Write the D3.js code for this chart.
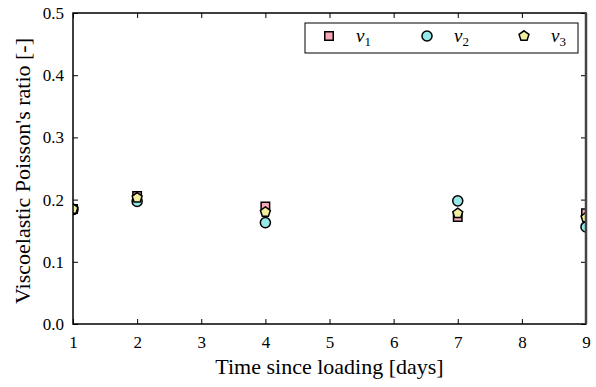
<!DOCTYPE html>
<html>
<head>
<meta charset="utf-8">
<script src="https://cdn.jsdelivr.net/npm/d3@7"></script>
<style>
	body { margin: 0; background: #fff; }
</style>
</head>
<body>
<div id="chart"></div>
<script>
'use strict';
(function(){

	// data
	var days = [1, 2, 4, 7, 9];
	var nu1 = [0.185, 0.206, 0.189, 0.172, 0.178];
	var nu2 = [0.184, 0.197, 0.163, 0.198, 0.156];
	var nu3 = [0.185, 0.203, 0.180, 0.178, 0.171];
	var seriesNames = ['1', '2', '3'];
	var xTicks = [1, 2, 3, 4, 5, 6, 7, 8, 9];
	var yTicks = [0, 0.1, 0.2, 0.3, 0.4, 0.5];

	var serif = '"Liberation Serif", "Times New Roman", serif';
	var width = 596, height = 387;
	var margin = {top: 13, right: 10, bottom: 63, left: 73};

	var svg = d3.select('#chart')
		.append('svg')
		.attr('width', width)
		.attr('height', height)
		.style('font-family', serif);

	var x = d3.scaleLinear().domain([1, 9]).range([margin.left, width - margin.right]);
	var y = d3.scaleLinear().domain([0, 0.5]).range([height - margin.bottom, margin.top]);

	var series = [
		{name: seriesNames[0], values: nu1, shape: 'square', fill: '#f5a9b8'},
		{name: seriesNames[1], values: nu2, shape: 'circle', fill: '#97e8e8'},
		{name: seriesNames[2], values: nu3, shape: 'pentagon', fill: '#f2f0a0'}
	];

	function markerPath(shape) {
		if (shape === 'square') return d3.symbol(d3.symbolSquare, 72)();
		if (shape === 'circle') return d3.symbol(d3.symbolCircle, 80)();
		// pentagon
		var r = 5.2, pts = [];
		for (var i = 0; i < 5; i++) {
			var a = -Math.PI / 2 + i * 2 * Math.PI / 5;
			pts.push([r * Math.cos(a), r * Math.sin(a)]);
		}
		return 'M' + pts.join('L') + 'Z';
	}

	svg.append('clipPath')
		.attr('id', 'plot-clip')
		.append('rect')
		.attr('x', x(1))
		.attr('y', y(0.5))
		.attr('width', x(9) - x(1))
		.attr('height', y(0) - y(0.5));

	// axes, ticks inside
	var gx = svg.append('g')
		.attr('transform', 'translate(0,' + y(0) + ')')
		.call(d3.axisBottom(x).tickValues(xTicks).tickFormat(d3.format('d')).tickSize(-5).tickPadding(12));
	var gxTop = svg.append('g')
		.attr('transform', 'translate(0,' + y(0.5) + ')')
		.call(d3.axisTop(x).tickValues(xTicks).tickFormat('').tickSize(-5));
	var gy = svg.append('g')
		.attr('transform', 'translate(' + x(1) + ',0)')
		.call(d3.axisLeft(y).tickValues(yTicks).tickFormat(d3.format('.1f')).tickSize(-5).tickPadding(9));
	var gyRight = svg.append('g')
		.attr('transform', 'translate(' + x(9) + ',0)')
		.call(d3.axisRight(y).tickValues(yTicks).tickFormat('').tickSize(-5));

	[gx, gxTop, gy, gyRight].forEach(function (g) {
		g.attr('font-family', null);
		g.select('.domain').remove();
		g.selectAll('line').attr('stroke', '#000').attr('stroke-width', 1);
		g.selectAll('text')
			.attr('fill', '#000')
			.style('font-family', serif)
			.style('font-size', '17px');
	});

	// markers
	var plot = svg.append('g').attr('clip-path', 'url(#plot-clip)');
	series.forEach(function (s) {
		plot.append('g')
			.selectAll('path')
			.data(s.values)
			.enter()
			.append('path')
			.attr('transform', function (d, i) {
				return 'translate(' + x(days[i]) + ',' + y(d) + ')';
			})
			.attr('d', markerPath(s.shape))
			.attr('fill', s.fill)
			.attr('stroke', '#000')
			.attr('stroke-width', 1.5);
	});

	// frame; right edge is a bit heavier and greyer in the original
	svg.append('rect')
		.attr('x', x(1))
		.attr('y', y(0.5))
		.attr('width', x(9) - x(1))
		.attr('height', y(0) - y(0.5))
		.attr('fill', 'none')
		.attr('stroke', '#000')
		.attr('stroke-width', 1.5);
	svg.append('line')
		.attr('x1', x(9)).attr('x2', x(9))
		.attr('y1', y(0.5)).attr('y2', y(0))
		.attr('stroke', '#444')
		.attr('stroke-width', 2.5);

	// axis labels
	svg.append('text')
		.attr('x', (x(1) + x(9)) / 2)
		.attr('y', 374)
		.attr('text-anchor', 'middle')
		.style('font-size', '22px')
		.text('Time since loading [days]');

	svg.append('text')
		.attr('transform', 'translate(30,171) rotate(-90)')
		.attr('text-anchor', 'middle')
		.style('font-size', '22px')
		.text("Viscoelastic Poisson's ratio [-]");

	// legend
	var legend = svg.append('g');
	legend.append('rect')
		.attr('x', 305)
		.attr('y', 23)
		.attr('width', 273)
		.attr('height', 30)
		.attr('fill', '#fff')
		.attr('stroke', '#000')
		.attr('stroke-width', 1);

	var legendX = [329, 427, 524];
	series.forEach(function (s, i) {
		legend.append('path')
			.attr('transform', 'translate(' + legendX[i] + ',36)')
			.attr('d', markerPath(s.shape))
			.attr('fill', s.fill)
			.attr('stroke', '#000')
			.attr('stroke-width', 1.5);
		var t = legend.append('text')
			.attr('x', legendX[i] + 27)
			.attr('y', 42)
			.style('font-size', '19px');
		t.append('tspan').style('font-style', 'italic').text('\u03bd');
		t.append('tspan').attr('dy', 4).style('font-size', '13px').text(s.name);
	});

}());
</script>
</body>
</html>
